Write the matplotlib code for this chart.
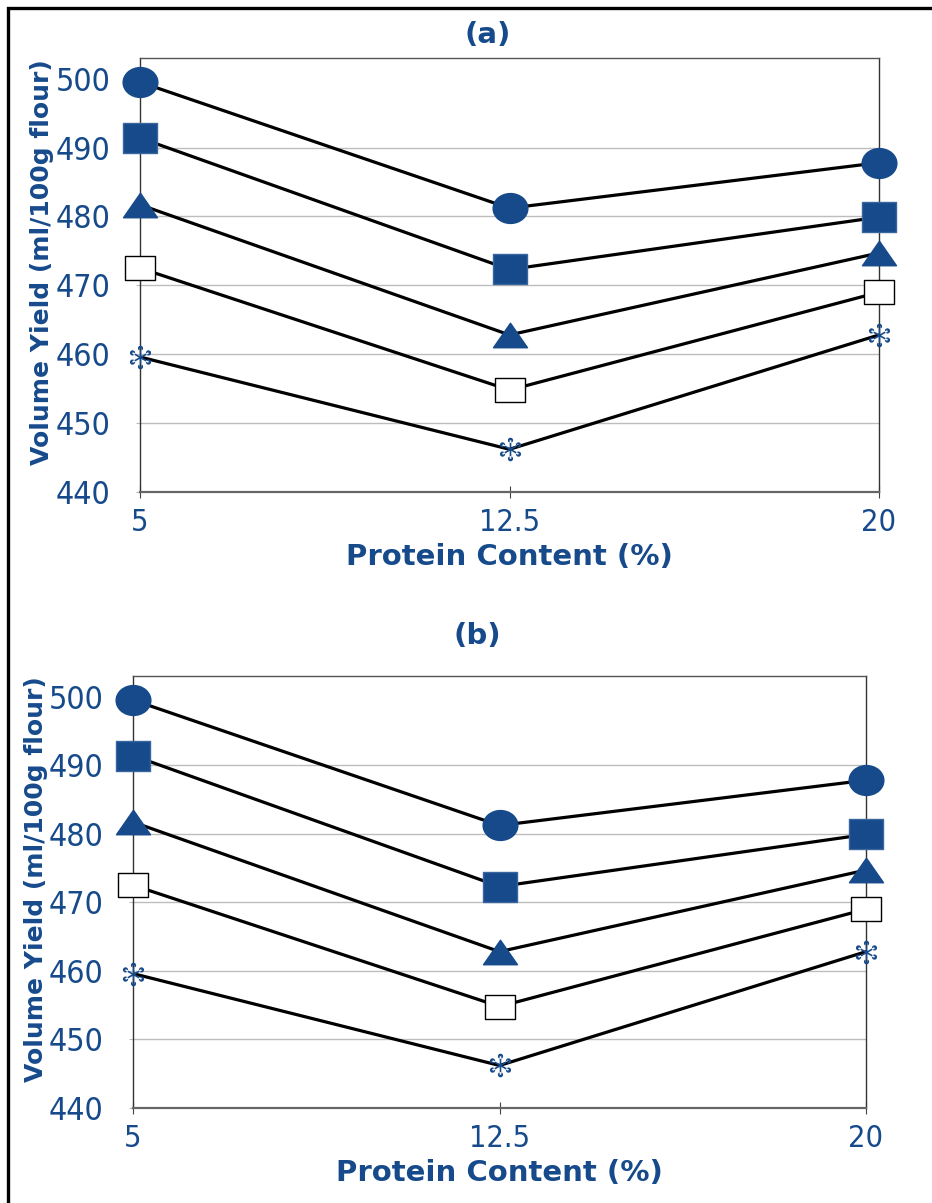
import numpy as np
import matplotlib
matplotlib.use('Agg')
import matplotlib.pyplot as plt
from matplotlib import font_manager as fm
from matplotlib.path import Path
from matplotlib.transforms import Affine2D
from matplotlib.patches import Rectangle

# data
protein = [5, 12.5, 20]
circle_vals = [499.5, 481.2, 487.8]
square_vals = [491.4, 472.3, 479.9]
triangle_vals = [481.7, 462.8, 474.7]
open_sq_vals = [472.5, 454.8, 469.0]
star_vals = [459.6, 446.2, 462.8]

yticks = [440, 450, 460, 470, 480, 490, 500]
xticks = [5, 12.5, 20]
xtick_labels = ['5', '12.5', '20']

blue = '#164a8b'
grid_c = '#bdbdbd'

# look for a narrow face for the tick numbers
narrow_file = None
for f in fm.fontManager.ttflist:
    if f.style != 'normal' or f.weight not in (400, 'normal', 'regular'):
        continue
    if 'Narrow' in f.name or 'Condensed' in f.name or f.stretch in ('condensed', 'semi-condensed', 'extra-condensed'):
        narrow_file = f.fname
        break
if narrow_file:
    ytick_font = fm.FontProperties(fname=narrow_file, size=23)
    xtick_font = fm.FontProperties(fname=narrow_file, size=22)
else:
    ytick_font = fm.FontProperties(family='DejaVu Sans', size=19)
    xtick_font = fm.FontProperties(family='DejaVu Sans', size=19)

# markers
ellipse = Path.unit_circle().transformed(Affine2D().scale(1.0, 0.86))
rect = Path([(-1, -0.87), (1, -0.87), (1, 0.87), (-1, 0.87), (-1, -0.87)],
            [Path.MOVETO, Path.LINETO, Path.LINETO, Path.LINETO, Path.CLOSEPOLY])
open_rect = Path([(-1, -0.83), (1, -0.83), (1, 0.83), (-1, 0.83), (-1, -0.83)],
                 [Path.MOVETO, Path.LINETO, Path.LINETO, Path.LINETO, Path.CLOSEPOLY])
tri = Path([(-1, -0.72), (1, -0.72), (0, 0.72), (-1, -0.72)],
           [Path.MOVETO, Path.LINETO, Path.LINETO, Path.CLOSEPOLY])

# asterisk with round dots on the arm ends
t = np.linspace(0, 2 * np.pi, 25)
verts, codes = [], []
for k in range(6):
    a = np.pi / 2 + k * np.pi / 3
    cx, cy = 0.78 * np.cos(a), 0.78 * np.sin(a)
    nx, ny = -np.sin(a) * 0.07, np.cos(a) * 0.07
    verts += [(nx, ny), (cx + nx, cy + ny), (cx - nx, cy - ny), (-nx, -ny), (nx, ny)]
    codes += [Path.MOVETO, Path.LINETO, Path.LINETO, Path.LINETO, Path.CLOSEPOLY]
    circ = [(cx + 0.22 * np.cos(s), cy + 0.22 * np.sin(s)) for s in t]
    verts += circ
    codes += [Path.MOVETO] + [Path.LINETO] * (len(circ) - 2) + [Path.CLOSEPOLY]
star = Path(verts, codes)

series = [
    (circle_vals, ellipse, blue, blue, 25),
    (square_vals, rect, blue, '#3a66a0', 24.5),
    (triangle_vals, tri, blue, blue, 24.5),
    (open_sq_vals, open_rect, 'white', 'black', 21),
    (star_vals, star, blue, 'none', 17),
]

fig = plt.figure(figsize=(9.32, 12.03), dpi=100)

# outer frame (runs off right and bottom edge)
fig.patches.append(Rectangle((8 / 932, -0.1), 1.2, 1 - 8 / 1203 + 0.1,
                             transform=fig.transFigure, fill=False,
                             edgecolor='black', linewidth=2.4))

panels = [
    ('(a)', [140 / 932, 1 - 492 / 1203, 739 / 932, 434 / 1203], 11),
    ('(b)', [133 / 932, 1 - 1108 / 1203, 733 / 932, 432 / 1203], 23),
]

for title, pos, tpad in panels:
    ax = fig.add_axes(pos)
    ax.set_xlim(5, 20)
    ax.set_ylim(440, 503)
    for yv in yticks[1:-1]:
        ax.axhline(yv, color=grid_c, lw=1, zorder=0)

    for vals, mk, fc, ec, ms in series:
        ax.plot(protein, vals, color='black', lw=2.3, zorder=2)
        ax.plot(protein, vals, ls='none', marker=mk, markersize=ms,
                markerfacecolor=fc, markeredgecolor=ec, markeredgewidth=1,
                zorder=3, clip_on=False)

    ax.set_yticks(yticks)
    ax.set_yticklabels([str(v) for v in yticks], fontproperties=ytick_font, color=blue)
    ax.set_xticks(xticks)
    ax.set_xticklabels(xtick_labels, fontproperties=xtick_font, color=blue)
    ax.tick_params(axis='y', direction='out', length=3, color=grid_c, pad=18)
    ax.tick_params(axis='x', direction='inout', length=9, color='#444444', pad=7)
    for s in ax.spines.values():
        s.set_linewidth(1)
        s.set_color('#333333')
    ax.spines['bottom'].set_color('#666666')
    ax.spines['bottom'].set_linewidth(1.6)
    ax.spines['top'].set_color('#555555')

    ax.set_xlabel('Protein Content (%)', fontsize=21, fontweight='bold',
                  color=blue, labelpad=4)
    ax.set_ylabel('Volume Yield (ml/100g flour)', fontsize=18, fontweight='bold',
                  color=blue)
    ax.yaxis.set_label_coords(-0.116, 0.53)
    ax.set_title(title, fontsize=21, fontweight='bold', color=blue, x=0.47, pad=tpad)

fig.savefig('out.png', dpi=100)
